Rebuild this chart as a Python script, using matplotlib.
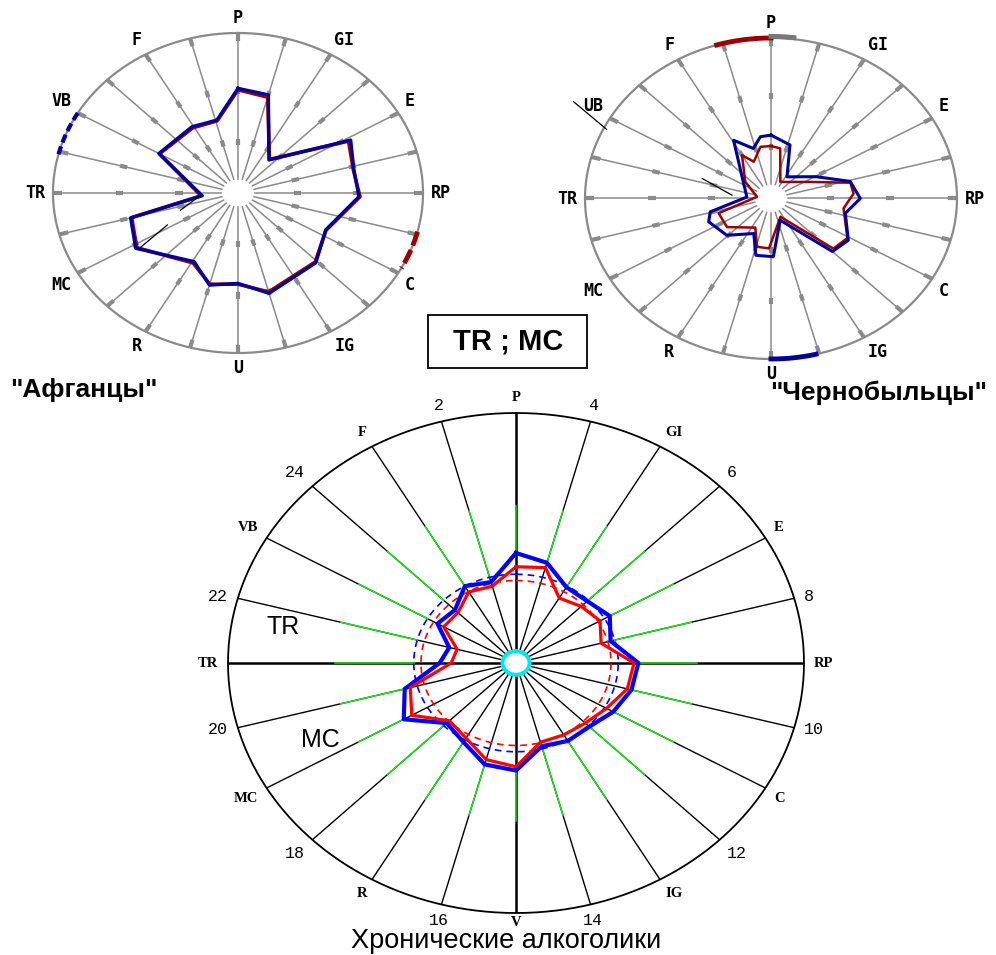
import numpy as np
import matplotlib
matplotlib.use("Agg")
import matplotlib.pyplot as plt
from matplotlib.patches import Rectangle

W, H = 996, 955

# ---------------- data ----------------
# bottom chart: 24 spokes, 15 deg apart, clockwise from P
alc_channels = ['P', 'GI', 'E', 'RP', 'C', 'IG', 'V', 'R', 'MC', 'TR', 'VB', 'F']
alc_hours = ['4', '6', '8', '10', '12', '14', '16', '18', '20', '22', '24', '2']
alc_blue = [0.44, 0.415, 0.35, 0.35, 0.376, 0.34, 0.425, 0.415, 0.39, 0.36, 0.36, 0.345,
            0.43, 0.42, 0.365, 0.34, 0.45, 0.40, 0.265, 0.24, 0.315, 0.30, 0.355, 0.335]
alc_red = [0.385, 0.395, 0.30, 0.32, 0.337, 0.306, 0.41, 0.40, 0.363, 0.34, 0.332, 0.328,
           0.415, 0.40, 0.347, 0.327, 0.418, 0.38, 0.225, 0.212, 0.29, 0.285, 0.328, 0.318]
alc_blue_mean = 0.355
alc_red_mean = 0.33

# top charts: 12 channel labels
afg_labels = ['P', 'GI', 'E', 'RP', 'C', 'IG', 'U', 'R', 'MC', 'TR', 'VB', 'F']
chern_labels = ['P', 'GI', 'E', 'RP', 'C', 'IG', 'U', 'R', 'MC', 'TR', 'UB', 'F']

# "Афганцы" polygons (angle in degrees clockwise from P, radius)
afg_blue_ang = [0, 15, 39, 61.5, 77, 92, 116, 136, 165, 180, 195, 209, 238, 255, 265, 300, 329, 346]
afg_blue_r = [0.654, 0.635, 0.266, 0.693, 0.643, 0.654, 0.527, 0.606, 0.649, 0.565, 0.596, 0.49,
              0.652, 0.601, 0.194, 0.494, 0.483, 0.47]
afg_red_ang = [0, 15, 39, 61.5, 77, 92, 116, 136, 165, 180, 195, 209, 238, 255, 265, 300, 329, 346]
afg_red_r = [0.645, 0.62, 0.27, 0.68, 0.64, 0.66, 0.53, 0.60, 0.64, 0.57, 0.59, 0.50,
             0.645, 0.595, 0.20, 0.49, 0.475, 0.465]

# "Чернобыльцы" polygons
chern_blue_ang = [0, 17, 32.5, 61, 76, 90, 103, 122, 135, 160, 178, 193, 203, 226, 246.6, 255.7,
                  274, 311, 331, 343, 351.6]
chern_blue_r = [0.395, 0.349, 0.16, 0.28, 0.439, 0.48, 0.41, 0.49, 0.467, 0.144, 0.363, 0.363,
                0.237, 0.33, 0.365, 0.337, 0.13, 0.206, 0.415, 0.326, 0.389]
chern_red_ang = [0, 9, 26, 64, 77, 86, 99, 121, 133, 156, 182, 194, 205, 233, 252, 278, 307, 330,
                 338, 350]
chern_red_r = [0.327, 0.316, 0.115, 0.235, 0.438, 0.445, 0.395, 0.479, 0.458, 0.125, 0.311, 0.31,
               0.2, 0.296, 0.296, 0.076, 0.173, 0.312, 0.247, 0.327]

fig = plt.figure(figsize=(W / 100, H / 100), dpi=100)
fig.patch.set_facecolor('white')


def make_polar(cx, cy, rx, ry):
    ax = fig.add_axes([(cx - rx) / W, 1 - (cy + ry) / H, 2 * rx / W, 2 * ry / H],
                      projection='polar')
    ax.set_theta_zero_location('N')
    ax.set_theta_direction(-1)
    ax.set_ylim(0, 1)
    ax.set_xticks([])
    ax.set_yticks([])
    ax.grid(False)
    ax.set_aspect('auto')
    ax.patch.set_alpha(0)
    for s in ax.spines.values():
        s.set_visible(False)
    return ax


def place_label(ax, ang_deg, r, text, **kw):
    t = np.deg2rad(ang_deg)
    s, c = np.sin(t), np.cos(t)
    ha = 'left' if s > 0.3 else ('right' if s < -0.3 else 'center')
    va = 'bottom' if c > 0.3 else ('top' if c < -0.3 else 'center')
    ax.text(t, r, text, ha=ha, va=va, clip_on=False, **kw)


def closed(ang, r):
    a = np.deg2rad(np.append(ang, ang[0]))
    return a, np.append(r, r[0])


full = np.linspace(0, 2 * np.pi, 361)
spoke_deg = np.arange(24) * 15.0


def top_chart(cx, cy, rx, ry, labels, blue_a, blue_r, red_a, red_r, blue_lw, red_lw):
    ax = make_polar(cx, cy, rx, ry)
    gray = '#8a8a8a'
    ax.plot(full, np.ones_like(full), color=gray, lw=1.6, clip_on=False, zorder=1)
    for d in spoke_deg:
        t = np.deg2rad(d)
        ax.plot([t, t], [0.09, 1.0], color=gray, lw=1.1, zorder=1)
        for a0, a1 in [(0.30, 0.34), (0.62, 0.66), (0.95, 1.0)]:
            ax.plot([t, t], [a0, a1], color=gray, lw=3.0, solid_capstyle='butt', zorder=1)
    for i, lab in enumerate(labels):
        place_label(ax, i * 30, 1.04, lab, fontsize=12, fontweight='bold',
                    family='DejaVu Sans Mono', color='black')
    a, r = closed(red_a, red_r)
    ax.plot(a, r, color='#990000', lw=red_lw, zorder=3)
    a, r = closed(blue_a, blue_r)
    ax.plot(a, r, color='#000099', lw=blue_lw, zorder=4)
    return ax


# ---- Афганцы ----
ax1 = top_chart(238, 193, 185, 160, afg_labels, afg_blue_ang, afg_blue_r,
                afg_red_ang, afg_red_r, 2.4, 2.6)
arc = np.deg2rad(np.linspace(284, 300, 20))
ax1.plot(arc, np.ones_like(arc), color='#000099', lw=3, ls=(0, (2, 1)), clip_on=False, zorder=5)
arc = np.deg2rad(np.linspace(104, 118, 20))
ax1.plot(arc, np.ones_like(arc), color='#990000', lw=3.5, ls=(0, (3, 1)), clip_on=False, zorder=5)
ax1.plot(np.deg2rad([264, 251]), [0.212, 0.328], color='black', lw=0.9, zorder=6)
ax1.plot(np.deg2rad([242.4, 237]), [0.431, 0.637], color='black', lw=0.9, zorder=6)

# ---- Чернобыльцы ----
ax2 = top_chart(771, 198.5, 186, 160.5, chern_labels, chern_blue_ang, chern_blue_r,
                chern_red_ang, chern_red_r, 2.2, 1.8)
arc = np.deg2rad(np.linspace(343, 360, 20))
ax2.plot(arc, np.ones_like(arc), color='#990000', lw=3.5, clip_on=False, zorder=5)
arc = np.deg2rad(np.linspace(0, 7, 10))
ax2.plot(arc, np.ones_like(arc) * 1.01, color='#777777', lw=3.5, clip_on=False, zorder=5)
arc = np.deg2rad(np.linspace(166, 180, 20))
ax2.plot(arc, np.ones_like(arc), color='#000099', lw=3.5, clip_on=False, zorder=5)
ax2.plot(np.deg2rad([299.6, 296]), [1.22, 0.984], color='black', lw=0.9, clip_on=False, zorder=6)
ax2.plot(np.deg2rad([288.6, 275.7]), [0.39, 0.211], color='black', lw=0.9, zorder=6)

# ---- Хронические алкоголики ----
ax3 = make_polar(516, 663, 288, 250)
ax3.plot(full, np.ones_like(full), color='black', lw=1.3, clip_on=False, zorder=1)
for k, d in enumerate(spoke_deg):
    t = np.deg2rad(d)
    lw = 1.8 if k % 6 == 0 else 1.0
    ax3.plot([t, t], [0.0, 1.0], color='black', lw=lw, zorder=1)
    ax3.plot([t, t], [max(alc_blue[k], alc_blue_mean), 0.63], color='#22e022', lw=1.1, zorder=2)
for i, lab in enumerate(alc_channels):
    r_lab = 1.01 if lab == 'V' else 1.035
    place_label(ax3, i * 30, r_lab, lab, fontsize=10.5, fontweight='bold',
                family='Liberation Serif', color='black')
for i, lab in enumerate(alc_hours):
    place_label(ax3, 15 + i * 30, 1.035, lab, fontsize=12, family='Liberation Mono',
                color='black')

ax3.plot(full, np.full_like(full, alc_blue_mean), color='blue', lw=1.2, ls=(0, (4, 3)), zorder=3)
ax3.plot(full, np.full_like(full, alc_red_mean), color='red', lw=1.2, ls=(0, (4, 3)), zorder=3)
a, r = closed(spoke_deg, alc_blue)
ax3.plot(a, r, color='blue', lw=3.0, zorder=4)
a, r = closed(spoke_deg, alc_red)
ax3.plot(a, r, color='red', lw=2.3, zorder=5)
ax3.fill(full, np.full_like(full, 0.047), color='white', zorder=6)
ax3.plot(full, np.full_like(full, 0.047), color='#00e5ee', lw=2.8, zorder=7)

fig.text(283 / W, 1 - 627 / H, 'TR', ha='center', va='center', fontsize=18,
         family='Liberation Sans')
fig.text(320 / W, 1 - 740 / H, 'MC', ha='center', va='center', fontsize=18,
         family='Liberation Sans')

# ---- titles ----
fig.text(10 / W, 1 - 390 / H, '"Афганцы"', ha='left', va='center', fontsize=19,
         fontweight='bold', family='Liberation Sans')
fig.text(987 / W, 1 - 393 / H, '"Чернобыльцы"', ha='right', va='center', fontsize=19,
         fontweight='bold', family='Liberation Sans')
fig.text(506 / W, 1 - 948 / H, 'Хронические алкоголики', ha='center', va='baseline',
         fontsize=19.5, family='Liberation Sans')

fig.add_artist(Rectangle((428 / W, 1 - 368 / H), 159 / W, 53 / H, transform=fig.transFigure,
                         fill=False, edgecolor='black', lw=1.3))
fig.text(508 / W, 1 - 341 / H, 'TR ; MC', ha='center', va='center', fontsize=21,
         fontweight='bold', family='Liberation Sans')

fig.savefig('out.png', dpi=100, facecolor='white')
